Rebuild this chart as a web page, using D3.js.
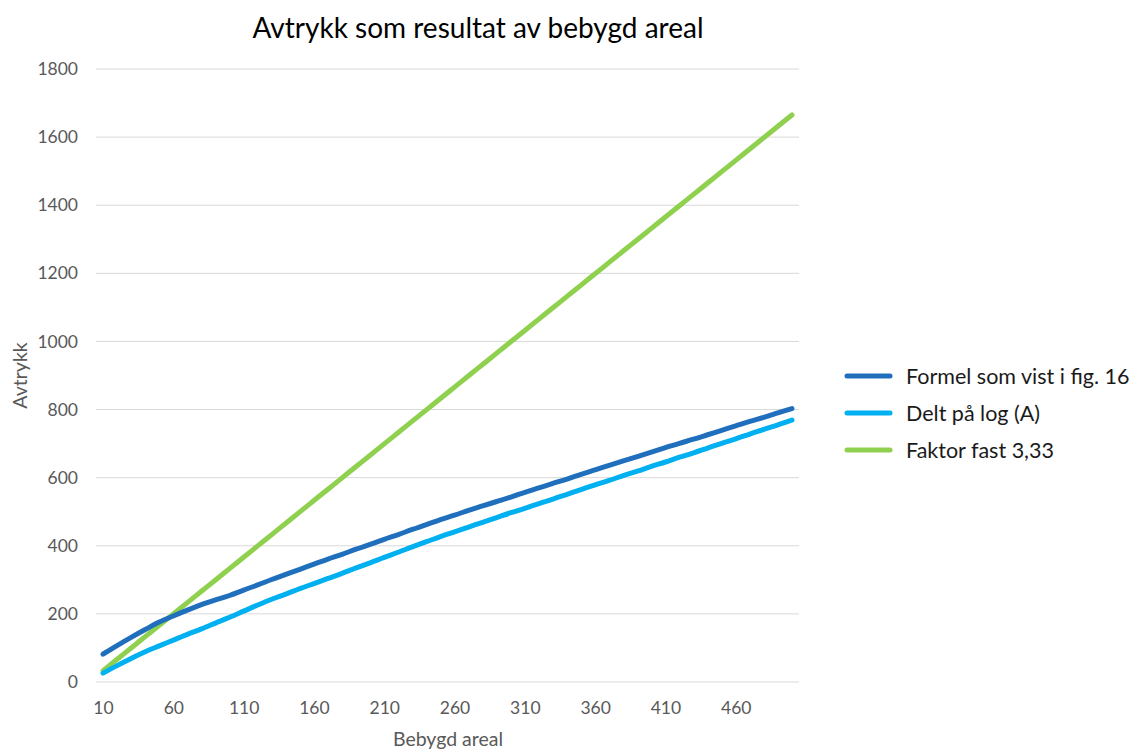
<!DOCTYPE html>
<html>
<head>
<meta charset="utf-8">
<script src="https://cdnjs.cloudflare.com/ajax/libs/d3/7.8.5/d3.min.js"></script>
<style>
  html, body { margin: 0; padding: 0; background: #ffffff; }
  svg { display: block; }
  text { font-family: "Lato", "Open Sans", sans-serif; }
</style>
</head>
<body>
<svg id="chart" width="1139" height="751"></svg>
<script>
// ---- data ----
const categories = [10,20,30,40,50,60,70,80,90,100,110,120,130,140,150,160,170,180,190,200,
  210,220,230,240,250,260,270,280,290,300,310,320,330,340,350,360,370,380,390,400,
  410,420,430,440,450,460,470,480,490,500];
const formelValues = [82,107,131,154,176,194,211,227,241,254,270,285,301,316,331,346,361,375,390,404,
  419,433,448,462,477,490,504,517,530,543,557,570,583,596,610,623,636,649,662,675,
  688,701,713,726,739,752,765,777,790,803];
const deltLogValues = [26,48,69,89,106,123,140,156,173,190,208,226,243,258,274,289,304,319,335,350,
  366,381,397,412,427,441,455,469,483,497,510,524,537,551,565,579,592,606,619,633,
  646,660,673,687,701,714,728,742,755,769];
const faktorValues = [33.3,66.6,99.9,133.2,166.5,199.8,233.1,266.4,299.7,333,366.3,399.6,432.9,466.2,499.5,532.8,566.1,599.4,632.7,666,
  699.3,732.6,765.9,799.2,832.5,865.8,899.1,932.4,965.7,999,1032.3,1065.6,1098.9,1132.2,1165.5,1198.8,1232.1,1265.4,1298.7,1332,
  1365.3,1398.6,1431.9,1465.2,1498.5,1531.8,1565.1,1598.4,1631.7,1665];
const seriesNames = ["Formel som vist i fig. 16", "Delt på log (A)", "Faktor fast 3,33"];
const yTicks = [0,200,400,600,800,1000,1200,1400,1600,1800];
const xTickLabels = [10,60,110,160,210,260,310,360,410,460];
const titleText = "Avtrykk som resultat av bebygd areal";
const xTitle = "Bebygd areal";
const yTitle = "Avtrykk";

// ---- layout ----
const colors = ["#1f6fbd", "#00b0f0", "#8fd14f"];
const plot = { left: 96, right: 799, top: 69, bottom: 682 };
const svg = d3.select("#chart");

const x = d3.scalePoint().domain(categories).range([plot.left, plot.right]).padding(0.5);
const y = d3.scaleLinear().domain([0, 1800]).range([plot.bottom, plot.top]);

// gridlines
svg.append("g")
  .selectAll("line").data(yTicks).join("line")
  .attr("x1", plot.left).attr("x2", plot.right)
  .attr("y1", d => y(d)).attr("y2", d => y(d))
  .attr("stroke", "#d9d9d9").attr("stroke-width", 1);

// y axis labels
const yAxis = d3.axisLeft(y).tickValues(yTicks).tickFormat(d3.format("d")).tickSize(0).tickPadding(18);
const gy = svg.append("g").attr("transform", `translate(${plot.left},0)`).call(yAxis);
gy.select(".domain").remove();
gy.selectAll("text").attr("font-size", 17.5).attr("fill", "#595959")
  .style("font-family", "Lato, 'Open Sans', sans-serif");

// x axis labels
const xAxis = d3.axisBottom(x).tickValues(xTickLabels).tickSize(0).tickPadding(20);
const gx = svg.append("g").attr("transform", `translate(0,${plot.bottom})`).call(xAxis);
gx.select(".domain").remove();
gx.selectAll("text").attr("font-size", 17.5).attr("fill", "#595959")
  .style("font-family", "Lato, 'Open Sans', sans-serif");

// lines
const allSeries = [formelValues, deltLogValues, faktorValues];
const line = d3.line().x((d, i) => x(categories[i])).y(d => y(d)).curve(d3.curveMonotoneX);
[2, 1, 0].forEach(k => {
  svg.append("path").datum(allSeries[k])
    .attr("d", line)
    .attr("fill", "none")
    .attr("stroke", colors[k])
    .attr("stroke-width", 5)
    .attr("stroke-linecap", "round")
    .attr("stroke-linejoin", "round");
});

// title
svg.append("text").attr("x", 478).attr("y", 38).attr("text-anchor", "middle")
  .attr("font-size", 28).attr("fill", "#000").text(titleText);

// axis titles
svg.append("text").attr("x", 448).attr("y", 746).attr("text-anchor", "middle")
  .attr("font-size", 19.5).attr("fill", "#595959").text(xTitle);
svg.append("text").attr("transform", `translate(27,${(plot.top + plot.bottom) / 2}) rotate(-90)`)
  .attr("text-anchor", "middle").attr("font-size", 19.5).attr("fill", "#595959").text(yTitle);

// legend
const legendY = [376, 413, 450];
const lg = svg.append("g");
seriesNames.forEach((name, i) => {
  lg.append("line").attr("x1", 847).attr("x2", 890)
    .attr("y1", legendY[i]).attr("y2", legendY[i])
    .attr("stroke", colors[i]).attr("stroke-width", 5).attr("stroke-linecap", "round");
  lg.append("text").attr("x", 906).attr("y", legendY[i]).attr("dy", "0.35em")
    .attr("font-size", 21.5).attr("fill", "#1a1a1a").text(name);
});
</script>
</body>
</html>
